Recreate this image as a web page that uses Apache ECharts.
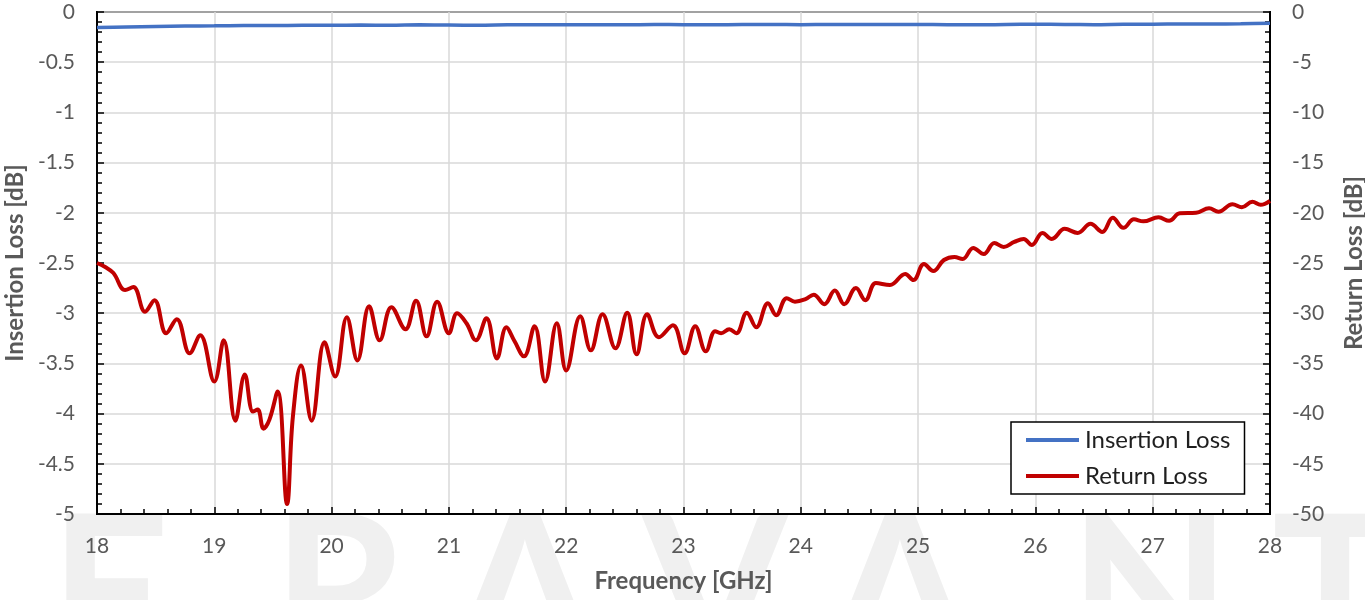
<!DOCTYPE html>
<html>
<head>
<meta charset="utf-8">
<script src="https://cdn.jsdelivr.net/npm/echarts@6/dist/echarts.min.js"></script>
<style>
html,body{margin:0;padding:0;background:#fff;}
#chart{width:1365px;height:600px;}
</style>
</head>
<body>
<div id="chart"></div>
<script>
// Frequency ticks / axes
const xTicks = [18, 19, 20, 21, 22, 23, 24, 25, 26, 27, 28];

// Insertion loss (dB)
const ilFreq = [18, 18.25, 18.5, 18.75, 19, 19.25, 19.5, 19.75, 20, 20.25, 20.5, 20.75, 21, 21.25, 21.5, 21.75, 22, 22.25, 22.5, 22.75, 23, 23.25, 23.5, 23.75, 24, 24.25, 24.5, 24.75, 25, 25.25, 25.5, 25.75, 26, 26.25, 26.5, 26.75, 27, 27.25, 27.5, 27.75, 28];
const ilVal  = [-0.155, -0.15, -0.145, -0.14, -0.138, -0.135, -0.135, -0.132, -0.133, -0.13, -0.132, -0.128, -0.13, -0.132, -0.128, -0.127, -0.126, -0.128, -0.127, -0.125, -0.126, -0.127, -0.125, -0.124, -0.126, -0.124, -0.125, -0.125, -0.124, -0.126, -0.128, -0.124, -0.122, -0.124, -0.126, -0.122, -0.121, -0.12, -0.119, -0.118, -0.112];

// Return loss (dB)
const rlFreq = [18.00, 18.07, 18.14, 18.24, 18.31, 18.41, 18.49, 18.59, 18.68, 18.79, 18.88, 19.00, 19.08, 19.18, 19.26, 19.33, 19.37, 19.42, 19.47, 19.54, 19.62, 19.67, 19.74, 19.83, 19.94,
  20.03, 20.13, 20.22, 20.32, 20.41, 20.51, 20.63, 20.72, 20.81, 20.90, 21.00, 21.07, 21.15, 21.23, 21.32, 21.41, 21.49, 21.56, 21.64, 21.73, 21.82, 21.92,
  22.00, 22.12, 22.21, 22.31, 22.42, 22.52, 22.60, 22.69, 22.79, 22.91, 23.01, 23.10, 23.19, 23.27, 23.32, 23.39, 23.45, 23.54, 23.62, 23.72, 23.79, 23.88, 23.95,
  24.04, 24.11, 24.20, 24.29, 24.37, 24.47, 24.55, 24.64, 24.76, 24.89, 24.96, 25.05, 25.13, 25.22, 25.31, 25.38, 25.47, 25.56, 25.65, 25.73, 25.82, 25.90, 25.97,
  26.06, 26.14, 26.25, 26.36, 26.47, 26.57, 26.66, 26.75, 26.84, 26.92, 27.05, 27.14, 27.23, 27.37, 27.48, 27.56, 27.68, 27.76, 27.85, 27.92, 28.00];
const rlVal = [-25.0, -25.4, -26.0, -27.7, -27.4, -29.85, -28.7, -32.0, -30.6, -34.0, -32.2, -36.8, -32.7, -40.7, -36.1, -39.8, -39.6, -41.5, -40.6, -37.8, -49.0, -40.3, -35.2, -40.7, -32.9,
  -36.3, -30.4, -34.7, -29.3, -32.7, -29.4, -31.6, -28.75, -32.3, -28.85, -32.0, -30.0, -31.0, -32.7, -30.5, -34.5, -31.4, -32.8, -34.3, -31.3, -36.8, -31.0,
  -35.7, -30.3, -33.7, -30.1, -33.5, -29.95, -34.1, -30.1, -32.4, -31.2, -34.0, -31.3, -33.8, -31.8, -32.0, -31.6, -32.0, -29.95, -31.4, -29.0, -30.2, -28.5, -28.85,
  -28.6, -28.15, -29.1, -27.75, -29.1, -27.5, -28.7, -27.0, -27.2, -26.1, -26.7, -25.1, -25.8, -24.7, -24.4, -24.6, -23.5, -24.1, -23.0, -23.4, -22.9, -22.6, -23.2,
  -22.0, -22.6, -21.6, -22.0, -21.1, -21.9, -20.5, -21.5, -20.65, -20.85, -20.45, -20.8, -20.05, -20.0, -19.55, -19.9, -19.15, -19.45, -18.9, -19.2, -18.8];

// Watermark letters
const wmLetters = ['E', 'R', 'A', 'V', 'A', 'N', 'T'];
const wmCenters = [110, 340, 525, 715, 900, 1150, 1335];

const FONT = 'Lato, "Open Sans", sans-serif';
const chart = echarts.init(document.getElementById('chart'));

const tickStyle = {
  axisLine: {show: true, onZero: false, lineStyle: {color: '#000', width: 2}},
  axisTick: {show: true, inside: true, length: 7, lineStyle: {color: '#000', width: 1.5}},
  minorTick: {show: true, splitNumber: 5, length: 5, lineStyle: {color: '#000', width: 1.5}},
  axisLabel: {color: '#595959', fontSize: 21, fontFamily: FONT, margin: 22},
  nameTextStyle: {color: '#595959', fontSize: 24, fontWeight: 'bold', fontFamily: FONT}
};

chart.setOption({
  backgroundColor: '#fff',
  animation: false,
  graphic: wmLetters.map((ch, i) => ({
    type: 'text', z: -10, silent: true,
    x: wmCenters[i], y: 493,
    style: {text: ch, fill: '#f0f0f0', font: 'bold 210px Lato, "Open Sans", sans-serif', textAlign: 'center', textVerticalAlign: 'top'}
  })),
  grid: {left: 97, right: 95, top: 12, bottom: 86, outerBoundsMode: 'none', containLabel: false,
         show: true, borderColor: '#000', borderWidth: 2, backgroundColor: 'transparent'},
  legend: {
    orient: 'vertical', left: 1011, top: 422,
    backgroundColor: '#fff', borderColor: '#000', borderWidth: 1.5,
    padding: [6, 14, 6, 15], itemGap: 12, itemWidth: 53, itemHeight: 4,
    icon: 'rect',
    textStyle: {color: '#1f1f1f', fontSize: 24, fontFamily: FONT, padding: [0, 0, 0, 1]},
    data: ['Insertion Loss', 'Return Loss']
  },
  xAxis: Object.assign({
    type: 'value', min: xTicks[0], max: xTicks[xTicks.length - 1], interval: 1,
    name: 'Frequency [GHz]', nameLocation: 'middle', nameGap: 55,
    splitLine: {show: true, lineStyle: {color: '#d9d9d9', width: 1.5}}
  }, tickStyle),
  yAxis: [
    Object.assign({
      type: 'value', min: -5, max: 0, interval: 0.5, position: 'left',
      name: 'Insertion Loss [dB]', nameLocation: 'middle', nameGap: 68, nameRotate: 90,
      splitLine: {show: true, lineStyle: {color: '#d9d9d9', width: 1.5}}
    }, tickStyle),
    Object.assign({
      type: 'value', min: -50, max: 0, interval: 5, position: 'right',
      name: 'Return Loss [dB]', nameLocation: 'middle', nameGap: 72, nameRotate: 90,
      splitLine: {show: false}
    }, tickStyle)
  ],
  series: [
    {
      name: 'Insertion Loss', type: 'line', yAxisIndex: 0, symbol: 'none', smooth: 0.3,
      lineStyle: {color: '#4472C4', width: 3.5}, itemStyle: {color: '#4472C4'},
      data: ilFreq.map((f, i) => [f, ilVal[i]])
    },
    {
      name: 'Return Loss', type: 'line', yAxisIndex: 1, symbol: 'none', smooth: 0.4,
      lineStyle: {color: '#C00000', width: 4}, itemStyle: {color: '#C00000'},
      data: rlFreq.map((f, i) => [f, rlVal[i]])
    }
  ]
});
</script>
</body>
</html>
